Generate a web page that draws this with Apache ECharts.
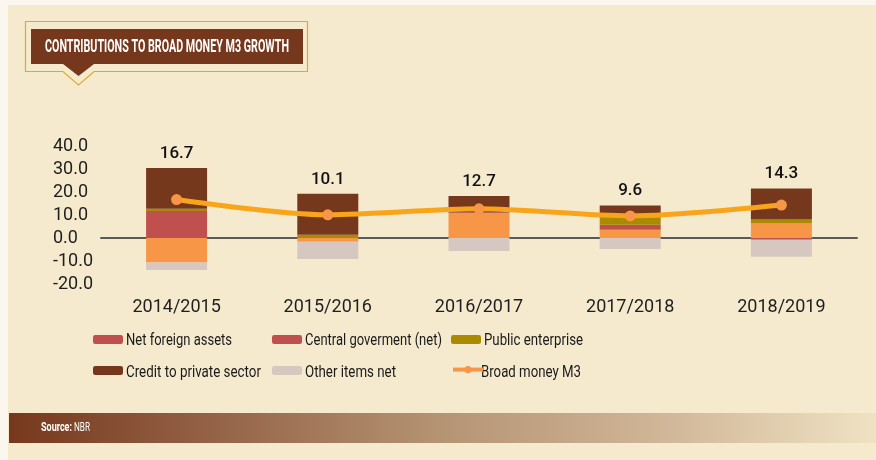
<!DOCTYPE html>
<html>
<head>
<meta charset="utf-8">
<script src="https://cdn.jsdelivr.net/npm/echarts@6/dist/echarts.min.js"></script>
<style>
  html, body { margin: 0; padding: 0; background: #fbf7ef; }
  #chart { width: 876px; height: 460px; }
</style>
</head>
<body>
<div id="chart"></div>
<script>
// Contributions to broad money (M3) growth, percentage points, by fiscal year
const categories = ['2014/2015', '2015/2016', '2016/2017', '2017/2018', '2018/2019'];
const netForeignAssets = [-10.7, -1.6, 10.9, 3.6, 6.3];
const centralGovernment = [11.7, 0.0, 0.3, 2.2, -0.8];
const publicEnterprise = [1.0, 1.4, 0.0, 3.2, 1.7];
const creditPrivate = [17.7, 17.8, 7.1, 5.1, 13.5];
const otherItems = [-3.2, -7.5, -5.7, -4.8, -7.3];
const broadMoneyM3 = [16.7, 10.1, 12.7, 9.6, 14.3];

const seriesNames = [
  'Net foreign assets',
  'Central goverment (net)',
  'Public enterprise',
  'Credit to private sector',
  'Other items net',
  'Broad money M3'
];

const titleText = 'CONTRIBUTIONS TO BROAD MONEY M3 GROWTH';
const sourceLabel = 'Source:';
const sourceName = 'NBR';

const COLORS = {
  orange: '#f79646',
  red: '#c0504d',
  olive: '#a98a00',
  brown: '#76381c',
  grey: '#d6c8c1',
  line: '#f9a51b'
};

const TEXT_FONT = 'Roboto, "Noto Sans", sans-serif';

// Squeeze a text run horizontally so it fits a given width
function fitScale(text, font, targetWidth) {
  const ctx = document.createElement('canvas').getContext('2d');
  ctx.font = font;
  const w = ctx.measureText(text).width;
  return w > 0 ? Math.min(1, targetWidth / w) : 1;
}

function narrowText(text, x, y, font, width, fill, align) {
  return {
    type: 'text',
    x: x,
    y: y,
    scaleX: fitScale(text, font, width),
    style: { text: text, fill: fill, font: font, align: align || 'left', verticalAlign: 'middle' },
    silent: true
  };
}

const chart = echarts.init(document.getElementById('chart'), null, { renderer: 'canvas' });

// legend swatches (text is drawn separately in a condensed run)
function legendAt(name, left, top) {
  return {
    data: [name],
    left: left,
    top: top,
    padding: 0,
    itemWidth: 30,
    itemHeight: 9,
    selectedMode: false,
    formatter: () => '',
    textStyle: { fontSize: 9, lineHeight: 9 }
  };
}

// legend label layout: [name, x, cap-middle y, width]
const LEGEND_FONT = '17px Roboto';
const legendLabels = [
  [seriesNames[0], 126, 340, 106],
  [seriesNames[1], 305, 340, 137],
  [seriesNames[2], 484, 340, 99],
  [seriesNames[3], 126, 372.5, 135],
  [seriesNames[4], 305, 372.5, 91],
  [seriesNames[5], 481, 372.5, 100]
];

const barBase = { type: 'bar', stack: 'total', barWidth: 61 };

chart.setOption({
  backgroundColor: '#f5eace',
  animation: false,
  grid: { left: 101, right: 19, top: 146, bottom: 176, containLabel: false },
  xAxis: {
    type: 'category',
    data: categories,
    axisLine: { onZero: true, lineStyle: { color: '#5a5a5a', width: 2 } },
    axisTick: { show: false },
    axisLabel: { margin: 14, fontFamily: TEXT_FONT, fontSize: 18, color: '#1e1e1e' }
  },
  yAxis: {
    type: 'value',
    min: -20,
    max: 40,
    interval: 10,
    axisLine: { show: false },
    axisTick: { show: false },
    splitLine: { show: false },
    axisLabel: {
      align: 'left',
      margin: 48,
      fontFamily: TEXT_FONT,
      fontSize: 18,
      color: '#1e1e1e',
      formatter: v => v.toFixed(1)
    }
  },
  legend: [
    legendAt({ name: seriesNames[0], itemStyle: { color: COLORS.red } }, 93, 335),
    legendAt(seriesNames[1], 272, 335),
    legendAt(seriesNames[2], 451, 335),
    legendAt(seriesNames[3], 93, 366),
    legendAt(seriesNames[4], 272, 366),
    legendAt({ name: seriesNames[5], itemStyle: { color: COLORS.orange }, lineStyle: { color: COLORS.orange, width: 4 } }, 451, 366)
  ],
  series: [
    Object.assign({}, barBase, { name: seriesNames[0], data: netForeignAssets, itemStyle: { color: COLORS.orange } }),
    Object.assign({}, barBase, { name: seriesNames[1], data: centralGovernment, itemStyle: { color: COLORS.red } }),
    Object.assign({}, barBase, { name: seriesNames[2], data: publicEnterprise, itemStyle: { color: COLORS.olive } }),
    Object.assign({}, barBase, {
      name: seriesNames[3],
      data: creditPrivate,
      itemStyle: { color: COLORS.brown },
      label: {
        show: true,
        position: 'top',
        distance: 6,
        fontFamily: TEXT_FONT,
        fontSize: 17,
        fontWeight: 500,
        color: '#111',
        formatter: p => broadMoneyM3[p.dataIndex].toFixed(1)
      }
    }),
    Object.assign({}, barBase, { name: seriesNames[4], data: otherItems, itemStyle: { color: COLORS.grey } }),
    {
      name: seriesNames[5],
      type: 'line',
      data: broadMoneyM3,
      smooth: 0.3,
      z: 5,
      symbol: 'circle',
      symbolSize: 11,
      lineStyle: { color: COLORS.line, width: 5 },
      itemStyle: { color: COLORS.orange }
    }
  ],
  graphic: [
    // off-white page margin on the top and left
    { type: 'rect', shape: { x: 0, y: 0, width: 876, height: 5 }, style: { fill: '#fbf7ef' }, silent: true },
    { type: 'rect', shape: { x: 0, y: 0, width: 8, height: 460 }, style: { fill: '#fbf7ef' }, silent: true },
    // title callout: golden outline with a pointer
    {
      type: 'polygon',
      shape: { points: [[25.5, 21.5], [307.5, 21.5], [307.5, 71.5], [94, 71.5], [78.5, 85], [63, 71.5], [25.5, 71.5]] },
      style: { fill: 'none', stroke: '#e2a928', lineWidth: 1.2 },
      silent: true
    },
    {
      type: 'polygon',
      shape: { points: [[31, 29], [303, 29], [303, 64], [94, 64], [78.5, 76], [63, 64], [31, 64]] },
      style: { fill: '#76381c' },
      silent: true
    },
    narrowText(titleText, 167, 47, 'bold 18px Roboto', 244, '#ffffff', 'center'),
    // legend labels
    ...legendLabels.map(([t, x, y, w]) => narrowText(t, x, y + 0.5, LEGEND_FONT, w, '#1a1a1a')),
    // source strip
    {
      type: 'rect',
      shape: { x: 9, y: 413, width: 867, height: 30 },
      style: {
        fill: new echarts.graphic.LinearGradient(0, 0, 1, 0, [
          { offset: 0, color: '#76381c' },
          { offset: 0.25, color: '#96654a' },
          { offset: 0.5, color: '#b59474' },
          { offset: 0.75, color: '#d0b597' },
          { offset: 1, color: '#efe2c3' }
        ])
      },
      silent: true
    },
    narrowText(sourceLabel, 41, 428, 'bold 13px Roboto', 31, '#ffffff'),
    narrowText(sourceName, 74, 428, '13px Roboto', 16, '#ffffff')
  ]
});
</script>
</body>
</html>
